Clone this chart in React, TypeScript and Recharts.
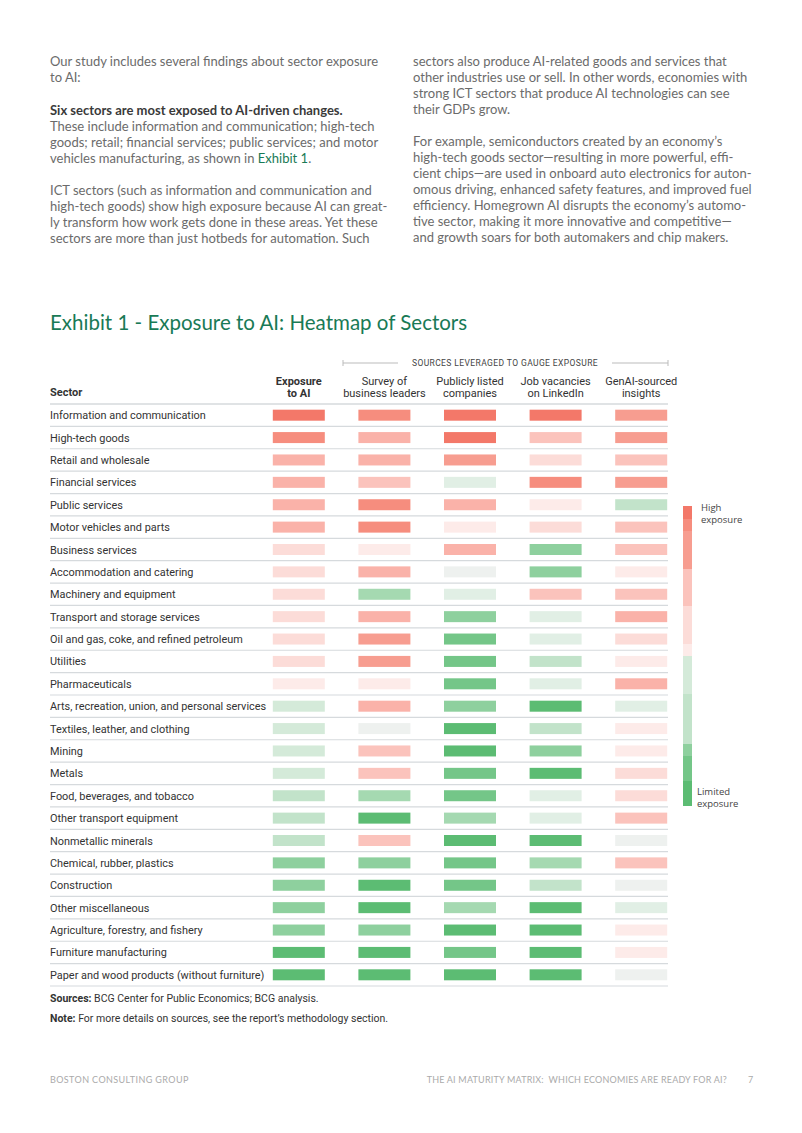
import { ScatterChart, Scatter, XAxis, YAxis } from "recharts";

// exposure level per cell: 7 = highest exposure (red) ... -7 = limited exposure (green)
const sectors = [
  "Information and communication",
  "High-tech goods",
  "Retail and wholesale",
  "Financial services",
  "Public services",
  "Motor vehicles and parts",
  "Business services",
  "Accommodation and catering",
  "Machinery and equipment",
  "Transport and storage services",
  "Oil and gas, coke, and refined petroleum",
  "Utilities",
  "Pharmaceuticals",
  "Arts, recreation, union, and personal services",
  "Textiles, leather, and clothing",
  "Mining",
  "Metals",
  "Food, beverages, and tobacco",
  "Other transport equipment",
  "Nonmetallic minerals",
  "Chemical, rubber, plastics",
  "Construction",
  "Other miscellaneous",
  "Agriculture, forestry, and fishery",
  "Furniture manufacturing",
  "Paper and wood products (without furniture)",
];

const exposureToAI = [7, 6, 4, 4, 4, 4, 2, 2, 2, 2, 2, 2, 1, -2, -2, -2, -2, -3, -3, -3, -5, -5, -5, -5, -7, -7];
const surveyOfLeaders = [6, 4, 4, 3, 6, 6, 1, 4, -4, 4, 5, 5, 1, 4, 0, 3, 3, -4, -7, 3, -5, -7, -7, -5, -7, -7];
const publicCompanies = [7, 7, 5, -1, 4, 1, 4, 0, -1, -5, -6, -6, -6, -5, -7, -7, -6, -6, -4, -7, -6, -6, -4, -7, -6, -7];
const jobVacancies = [7, 3, 2, 6, 1, 2, -5, -5, 3, -1, -1, -3, -1, -7, -3, -5, -7, -1, -1, -7, -4, -3, -7, -7, -7, -7];
const genAIInsights = [5, 5, 3, 5, -3, 3, 3, 1, 3, 4, 2, 1, 4, -1, 1, 1, 2, 2, 3, 0, 3, 0, -1, 1, 1, 0];

const columnHeaders = [
  ["Exposure", "to AI"],
  ["Survey of", "business leaders"],
  ["Publicly listed", "companies"],
  ["Job vacancies", "on LinkedIn"],
  ["GenAI-sourced", "insights"],
];

const legendLevels = [7, 6, 5, 5, 5, 3, 3, 3, 2, 2, 2, 1, -2, -2, -2, -3, -3, -3, -3, -5, -6, -6, -7, -7];

const LEVEL_COLORS: Record<number, string> = {
  7: "#F37869",
  6: "#F68D7E",
  5: "#F79D90",
  4: "#FAB2A9",
  3: "#FBC3BC",
  2: "#FCDCD8",
  1: "#FDEBE9",
  0: "#EEF1EF",
  [-1]: "#E1EFE5",
  [-2]: "#D4EAD9",
  [-3]: "#C2E3CA",
  [-4]: "#A5D9B1",
  [-5]: "#8ED09E",
  [-6]: "#74C688",
  [-7]: "#5CBC73",
};

const columns = [exposureToAI, surveyOfLeaders, publicCompanies, jobVacancies, genAIInsights];
const cells = columns.flatMap((values, col) =>
  values.map((level, row) => ({ col, row, level }))
);

const GREEN = "#197A56";
const BODY = "#6b6b6b";
const NARROW = "Roboto, sans-serif";
const BODY_FONT = "Lato, 'Open Sans', sans-serif";

const CHART_TOP = 360;
const MARGIN = { top: 14, right: 118, bottom: 10, left: 50 };
const HEADER_H = 30;
const PLOT_H = 582;
const CHART_H = MARGIN.top + HEADER_H + PLOT_H + MARGIN.bottom;
const ROW_H = PLOT_H / sectors.length;
const LINE_END = 668;

const SectorTick = ({ y, payload, index }: any) => (
  <g>
    {index === 0 && (
      <line x1={50} x2={LINE_END} y1={y - ROW_H / 2} y2={y - ROW_H / 2} stroke="#D6DADD" strokeWidth={1.5} />
    )}
    <text x={50} y={y} dy={4} fontSize={10.9} fill="#333" fontFamily={NARROW}>
      {sectors[payload.value]}
    </text>
    <line x1={50} x2={LINE_END} y1={y + ROW_H / 2} y2={y + ROW_H / 2} stroke="#D6DADD" strokeWidth={1.2} />
  </g>
);

const HeaderTick = ({ x, y, payload }: any) => {
  const lines = columnHeaders[payload.value];
  return (
    <text
      x={x}
      y={y}
      textAnchor="middle"
      fontSize={11}
      fill="#333"
      fontFamily={NARROW}
      fontWeight={payload.value === 0 ? 700 : 400}
    >
      <tspan x={x} dy={-11}>{lines[0]}</tspan>
      <tspan x={x} dy={12}>{lines[1]}</tspan>
    </text>
  );
};

const Cell = ({ cx, cy, payload }: any) => (
  <rect x={cx - 26} y={cy - 5.5} width={52} height={11} fill={LEVEL_COLORS[payload.level]} />
);

const Line = ({ top, children, style }: any) => (
  <div style={{ position: "absolute", top, left: 0, whiteSpace: "nowrap", lineHeight: "16px", ...style }}>
    {children}
  </div>
);

const leftLines: [number, any][] = [
  [53, "Our study includes several findings about sector exposure"],
  [69, "to AI:"],
  [102, <b style={{ color: "#3a3a3a" }}>Six sectors are most exposed to AI-driven changes.</b>],
  [118, "These include information and communication; high-tech"],
  [134, "goods; retail; financial services; public services; and motor"],
  [150, <>vehicles manufacturing, as shown in <span style={{ color: GREEN }}>Exhibit 1</span>.</>],
  [182, "ICT sectors (such as information and communication and"],
  [198, "high-tech goods) show high exposure because AI can great-"],
  [214, "ly transform how work gets done in these areas. Yet these"],
  [230, "sectors are more than just hotbeds for automation. Such"],
];

const rightLines: [number, string][] = [
  [53, "sectors also produce AI-related goods and services that"],
  [69, "other industries use or sell. In other words, economies with"],
  [85, "strong ICT sectors that produce AI technologies can see"],
  [101, "their GDPs grow."],
  [133, "For example, semiconductors created by an economy\u2019s"],
  [149, "high-tech goods sector\u2014resulting in more powerful, effi-"],
  [165, "cient chips\u2014are used in onboard auto electronics for auton-"],
  [181, "omous driving, enhanced safety features, and improved fuel"],
  [197, "efficiency. Homegrown AI disrupts the economy\u2019s automo-"],
  [213, "tive sector, making it more innovative and competitive\u2014"],
  [229, "and growth soars for both automakers and chip makers."],
];

export default function App() {
  return (
    <div
      style={{
        position: "absolute",
        left: 0,
        top: 0,
        width: 802,
        height: 1133,
        background: "#fff",
        overflow: "hidden",
        fontFamily: BODY_FONT,
      }}
    >
      <div style={{ position: "absolute", left: 50, top: 0, fontSize: 13, color: BODY }}>
        {leftLines.map(([top, t], i) => (
          <Line key={i} top={top}>{t}</Line>
        ))}
      </div>
      <div style={{ position: "absolute", left: 413, top: 0, fontSize: 13, color: BODY }}>
        {rightLines.map(([top, t], i) => (
          <Line key={i} top={top}>{t}</Line>
        ))}
      </div>

      <div
        style={{
          position: "absolute",
          left: 50,
          top: 310,
          fontSize: 20.5,
          fontWeight: 400,
          color: GREEN,
          whiteSpace: "nowrap",
        }}
      >
        Exhibit 1 - Exposure to AI: Heatmap of Sectors
      </div>

      {/* bracket over the source columns */}
      <svg style={{ position: "absolute", left: 0, top: 355 }} width={802} height={16}>
        <line x1={343} x2={398} y1={8} y2={8} stroke="#bbb" />
        <line x1={612} x2={668} y1={8} y2={8} stroke="#bbb" />
        <line x1={343} x2={343} y1={5} y2={11} stroke="#bbb" />
        <line x1={668} x2={668} y1={5} y2={11} stroke="#bbb" />
        <text x={505} y={11} textAnchor="middle" fontSize={8.5} fill="#444" fontFamily={NARROW} letterSpacing={0.4}>
          SOURCES LEVERAGED TO GAUGE EXPOSURE
        </text>
      </svg>

      <div
        style={{
          position: "absolute",
          left: 50,
          top: 386,
          fontSize: 11,
          fontWeight: 700,
          color: "#333",
          fontFamily: NARROW,
        }}
      >
        Sector
      </div>

      <div style={{ position: "absolute", left: 0, top: CHART_TOP }}>
        <ScatterChart width={802} height={CHART_H} margin={MARGIN}>
          <XAxis
            type="number"
            dataKey="col"
            orientation="top"
            domain={[-0.5, columnHeaders.length - 0.5]}
            ticks={columnHeaders.map((_, i) => i)}
            interval={0}
            height={HEADER_H}
            axisLine={false}
            tickLine={false}
            tick={<HeaderTick />}
          />
          <YAxis
            type="number"
            dataKey="row"
            reversed
            domain={[-0.5, sectors.length - 0.5]}
            ticks={sectors.map((_, i) => i)}
            interval={0}
            width={206}
            axisLine={false}
            tickLine={false}
            tick={<SectorTick />}
          />
          <Scatter data={cells} shape={<Cell />} isAnimationActive={false} />
        </ScatterChart>
      </div>

      {/* legend */}
      <div style={{ position: "absolute", left: 683, top: 506, width: 9 }}>
        {legendLevels.map((lv, i) => (
          <div key={i} style={{ height: 12.5, background: LEVEL_COLORS[lv] }} />
        ))}
      </div>
      <div
        style={{
          position: "absolute",
          left: 701,
          top: 502,
          fontSize: 9.5,
          lineHeight: "12px",
          color: "#444",
          fontFamily: "'Open Sans', sans-serif",
        }}
      >
        <div>High</div>
        <div>exposure</div>
      </div>
      <div
        style={{
          position: "absolute",
          left: 697,
          top: 786,
          fontSize: 9.5,
          lineHeight: "12px",
          color: "#444",
          fontFamily: "'Open Sans', sans-serif",
        }}
      >
        <div>Limited</div>
        <div>exposure</div>
      </div>

      <div style={{ position: "absolute", left: 50, top: 992, fontSize: 10.5, color: "#333", fontFamily: NARROW }}>
        <b>Sources:</b> BCG Center for Public Economics; BCG analysis.
      </div>
      <div style={{ position: "absolute", left: 50, top: 1012, fontSize: 10.5, color: "#333", fontFamily: NARROW }}>
        <b>Note:</b> For more details on sources, see the report{"\u2019"}s methodology section.
      </div>

      <div
        style={{
          position: "absolute",
          left: 50,
          top: 1074,
          fontSize: 9,
          color: "#aaa",
          letterSpacing: 0.4,
          whiteSpace: "nowrap",
        }}
      >
        BOSTON CONSULTING GROUP
      </div>
      <div
        style={{
          position: "absolute",
          right: 75,
          top: 1074,
          fontSize: 9,
          color: "#aaa",
          letterSpacing: 0.2,
          whiteSpace: "pre",
        }}
      >
        THE AI MATURITY MATRIX:  WHICH ECONOMIES ARE READY FOR AI?
      </div>
      <div style={{ position: "absolute", left: 748, top: 1074, fontSize: 9, color: "#aaa" }}>7</div>
    </div>
  );
}
